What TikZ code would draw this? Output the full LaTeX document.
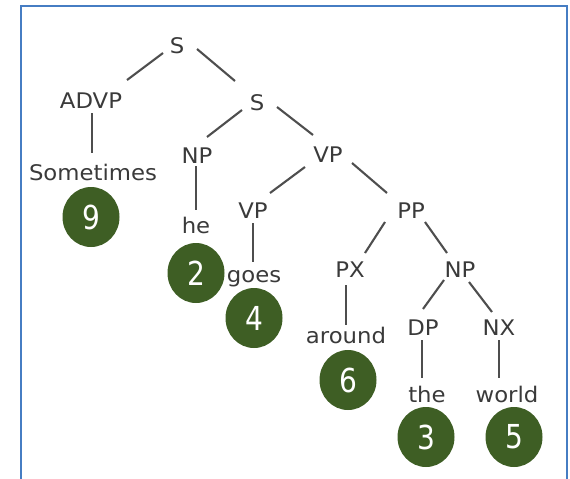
\documentclass[tikz,border=0pt]{standalone}
\usepackage{fontspec}
\setmainfont{DejaVu Sans}[FakeStretch=1.06]
\newfontfamily\numfont{DejaVu Sans}[FakeStretch=0.85]
\usetikzlibrary{shapes.geometric}
\definecolor{circ}{RGB}{62,94,36}
\definecolor{framec}{RGB}{70,125,195}
\definecolor{txt}{RGB}{58,58,58}
\definecolor{lnc}{RGB}{78,78,78}
\begin{document}
\begin{tikzpicture}[x=1pt,y=-1pt,
  lab/.style={anchor=base,inner sep=0pt,text=txt,font=\fontsize{21.5}{21.5}\selectfont},
  num/.style={ellipse,fill=circ,minimum width=57pt,minimum height=60pt,inner sep=0pt,text=white,font=\numfont\fontsize{33}{33}\selectfont},
  conn/.style={draw=lnc,line width=2.1pt},
  framel/.style={draw=framec,line width=2.5pt}]
\useasboundingbox (0,0) rectangle (570,479);
\draw[framel] (21,479) -- (21,6) -- (567,6) -- (567,479);
% labels
\node[lab] (S1) at (177,53) {S};
\node[lab] (ADVP) at (91,108) {ADVP};
\node[lab] (S2) at (257,110) {S};
\node[lab] (NP) at (197,163) {NP};
\node[lab] (VP) at (328,162) {VP};
\node[lab] (VP2) at (253,218) {VP};
\node[lab] (PP) at (411,218) {PP};
\node[lab] (PX) at (350,277) {PX};
\node[lab] (NP2) at (460,277) {NP};
\node[lab] (DP) at (423,335) {DP};
\node[lab] (NX) at (499,335) {NX};
% words
\node[lab] (w1) at (93,180) {Sometimes};
\node[lab] (w2) at (196,233) {he};
\node[lab] (w3) at (254,282) {goes};
\node[lab] (w4) at (346,343) {around};
\node[lab] (w5) at (427,402) {the};
\node[lab] (w6) at (507,402) {world};
% numbers
\node[num] (c9) at (91,217) {9};
\node[num] (c2) at (196,273) {2};
\node[num] (c4) at (254,318) {4};
\node[num] (c6) at (348,380) {6};
\node[num] (c3) at (426,437) {3};
\node[num] (c5) at (514,437) {5};
% connectors
\draw[conn] ([shift={(-14,0)}]S1.base) -- ([shift={(36,-28)}]ADVP.base);
\draw[conn] ([shift={(20,-4)}]S1.base) -- ([shift={(-22,-29)}]S2.base);
\draw[conn] ([shift={(-15,0)}]S2.base) -- ([shift={(10,-26)}]NP.base);
\draw[conn] ([shift={(20,-3)}]S2.base) -- ([shift={(-15,-27)}]VP.base);
\draw[conn] ([shift={(-23,5)}]VP.base) -- ([shift={(17,-25)}]VP2.base);
\draw[conn] ([shift={(24,1)}]VP.base) -- ([shift={(-24,-25)}]PP.base);
\draw[conn] ([shift={(-26,4)}]PP.base) -- ([shift={(15,-24)}]PX.base);
\draw[conn] ([shift={(14,4)}]PP.base) -- ([shift={(-13,-24)}]NP2.base);
\draw[conn] ([shift={(-16,3)}]NP2.base) -- ([shift={(0,-26)}]DP.base);
\draw[conn] ([shift={(9,5)}]NP2.base) -- ([shift={(-7,-23)}]NX.base);
\draw[conn] ([shift={(1,5)}]ADVP.base) -- ([shift={(-1,-27)}]w1.base);
\draw[conn] ([shift={(-1,3)}]NP.base) -- ([shift={(0,-23)}]w2.base);
\draw[conn] ([shift={(0,5)}]VP2.base) -- ([shift={(-1,-20)}]w3.base);
\draw[conn] ([shift={(-4,8)}]PX.base) -- ([shift={(0,-18)}]w4.base);
\draw[conn] ([shift={(-1,5)}]DP.base) -- ([shift={(-5,-24)}]w5.base);
\draw[conn] ([shift={(0,5)}]NX.base) -- ([shift={(-8,-24)}]w6.base);
\end{tikzpicture}
\end{document}
